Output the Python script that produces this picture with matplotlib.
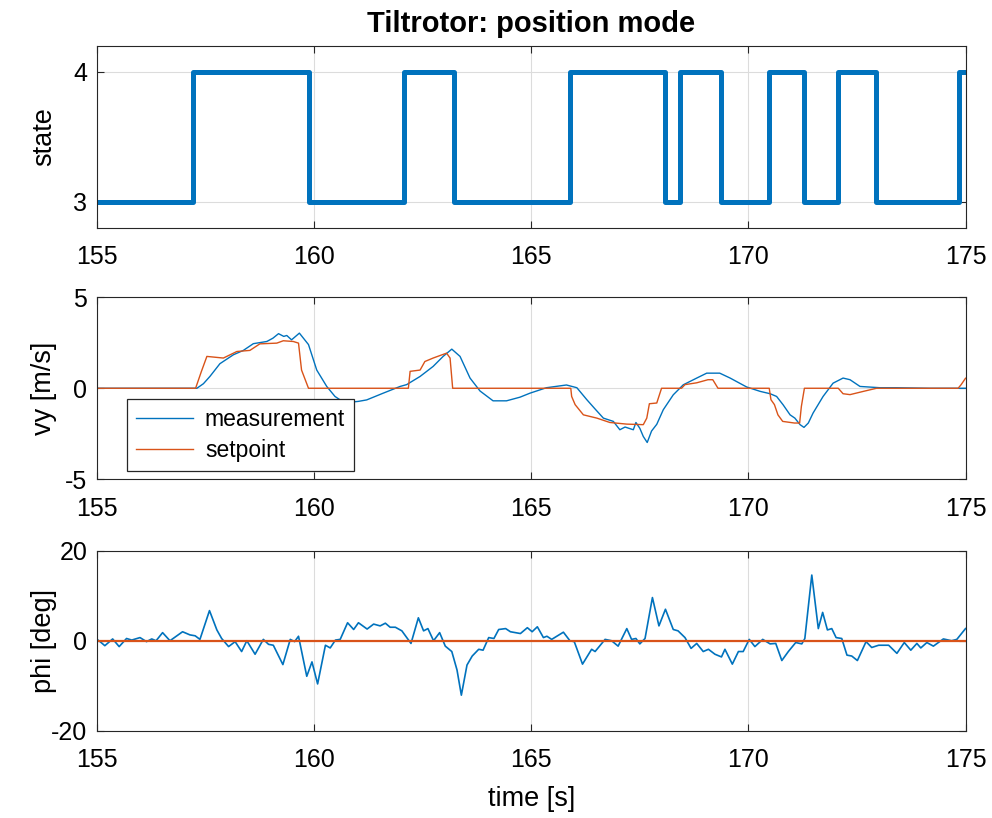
import matplotlib
matplotlib.use('Agg')
import matplotlib.pyplot as plt

plt.rcParams['font.family'] = ['Liberation Sans', 'DejaVu Sans']
plt.rcParams['axes.unicode_minus'] = False

blue = '#0072BD'
orange = '#D95319'

# state switching (time, state after the switch)
state_t = [155.0, 157.22, 159.88, 162.08, 163.22, 165.90, 168.07, 168.42, 169.37,
           170.48, 171.29, 172.07, 172.95, 174.85, 175.0]
state_v = [3, 4, 3, 4, 3, 4, 3, 4, 3, 4, 3, 4, 3, 4, 4]

# vy measurement
vy_meas_t = [155.0, 157.3, 157.45, 157.6, 157.83, 158.14, 158.37, 158.6, 158.91, 159.05,
             159.18, 159.3, 159.37, 159.48, 159.66, 159.87, 160.06, 160.29, 160.48, 160.7,
             161.02, 161.21, 161.59, 161.98, 162.13, 162.44, 162.74, 162.97, 163.17, 163.36,
             163.59, 163.82, 164.12, 164.43, 164.74, 164.97, 165.35, 165.81, 166.05, 166.28,
             166.47, 166.66, 166.89, 167.04, 167.16, 167.35, 167.41, 167.5, 167.58, 167.67,
             167.77, 167.89, 168.04, 168.27, 168.5, 168.81, 169.04, 169.34, 169.58, 169.96,
             170.27, 170.5, 170.65, 170.8, 170.96, 171.07, 171.19, 171.28, 171.38, 171.49,
             171.72, 171.95, 172.18, 172.34, 172.57, 173.03, 173.41, 174.18, 175.0]
vy_meas = [0.0, 0.0, 0.25, 0.65, 1.35, 1.84, 2.08, 2.45, 2.57, 2.75,
           3.0, 2.85, 2.9, 2.66, 3.03, 2.4, 1.0, 0.1, -0.45, -0.8,
           -0.72, -0.64, -0.27, 0.1, 0.2, 0.65, 1.2, 1.75, 2.15, 1.75,
           0.56, -0.15, -0.69, -0.69, -0.49, -0.27, 0.03, 0.18, 0.03, -0.63,
           -1.14, -1.64, -1.82, -2.28, -2.13, -2.28, -1.88, -2.2, -2.65, -2.98,
           -2.35, -1.98, -1.18, -0.36, 0.19, 0.56, 0.83, 0.83, 0.56, 0.07,
           -0.17, -0.3, -0.45, -0.91, -1.46, -1.64, -2.0, -2.15, -1.91, -1.36,
           -0.45, 0.28, 0.56, 0.47, 0.1, 0.03, 0.03, 0.0, 0.0]

# vy setpoint
vy_sp_t = [155.0, 157.27, 157.4, 157.53, 157.91, 158.22, 158.52, 158.75, 159.14, 159.29,
           159.52, 159.64, 159.71, 159.87, 162.17, 162.21, 162.44, 162.55, 162.74, 163.05,
           163.13, 163.19, 165.91, 165.93, 166.01, 166.2, 166.51, 166.81, 167.2, 167.58,
           167.66, 167.72, 167.89, 168.0, 168.46, 168.54, 168.81, 169.07, 169.18, 169.3,
           170.48, 170.52, 170.6, 170.68, 170.79, 171.06, 171.18, 171.22, 171.29, 172.07,
           172.18, 172.34, 172.65, 172.88, 172.95, 174.83, 174.9, 175.0]
vy_sp = [0.0, 0.0, 0.9, 1.75, 1.66, 2.02, 2.08, 2.44, 2.48, 2.61,
         2.57, 2.48, 1.0, 0.0, 0.0, 0.93, 1.0, 1.47, 1.66, 1.93,
         1.66, 0.0, 0.0, -0.45, -0.9, -1.46, -1.64, -1.88, -1.97, -2.0,
         -1.64, -0.85, -0.81, 0.0, 0.0, 0.2, 0.3, 0.47, 0.47, 0.0,
         0.0, -0.63, -0.9, -1.46, -1.82, -1.91, -1.91, -1.0, 0.0, 0.0,
         -0.3, -0.35, -0.17, -0.04, 0.0, 0.0, 0.2, 0.55]

# phi measurement
phi_t = [155.0, 155.07, 155.18, 155.36, 155.51, 155.68, 155.8, 155.99, 156.14, 156.26,
         156.36, 156.51, 156.68, 156.97, 157.14, 157.26, 157.37, 157.59, 157.76, 157.87,
         158.03, 158.18, 158.33, 158.45, 158.64, 158.83, 158.95, 159.06, 159.28, 159.45,
         159.55, 159.64, 159.83, 159.95, 160.08, 160.26, 160.37, 160.49, 160.6, 160.77,
         160.91, 161.02, 161.22, 161.37, 161.52, 161.64, 161.75, 161.87, 162.02, 162.23,
         162.4, 162.52, 162.62, 162.75, 162.89, 163.02, 163.17, 163.29, 163.39, 163.52,
         163.64, 163.79, 163.89, 164.02, 164.14, 164.25, 164.41, 164.52, 164.75, 164.91,
         165.02, 165.14, 165.28, 165.36, 165.47, 165.59, 165.74, 165.89, 165.99, 166.18,
         166.39, 166.47, 166.7, 166.85, 167.0, 167.2, 167.31, 167.41, 167.5, 167.62,
         167.79, 167.94, 168.09, 168.27, 168.38, 168.54, 168.68, 168.81, 168.96, 169.08,
         169.23, 169.38, 169.46, 169.63, 169.77, 169.88, 170.02, 170.15, 170.33, 170.5,
         170.63, 170.77, 170.92, 171.09, 171.23, 171.3, 171.46, 171.61, 171.71, 171.82,
         171.92, 172.02, 172.15, 172.27, 172.38, 172.51, 172.71, 172.84, 173.0, 173.23,
         173.42, 173.59, 173.74, 173.88, 173.97, 174.11, 174.26, 174.49, 174.68, 174.8,
         175.0]
phi = [0.3, -0.2, -1.1, 0.4, -1.3, 0.5, 0.15, 0.7, -0.2, 0.4,
       0.0, 1.8, 0.0, 2.0, 1.3, 1.1, 0.3, 6.7, 2.4, 0.5,
       -1.3, -0.2, -2.4, 0.0, -3.0, 0.3, -0.8, -1.0, -5.3, 0.3,
       -0.2, 1.0, -7.9, -4.7, -9.6, -1.0, -1.6, 0.15, 0.3, 4.0,
       2.5, 4.0, 2.6, 3.7, 3.3, 3.9, 3.0, 3.0, 2.2, -0.6,
       5.1, 2.2, 2.7, 0.0, 1.8, -1.2, -2.4, -6.5, -12.1, -5.4,
       -3.4, -1.9, -2.1, 0.7, 0.5, 2.5, 2.7, 2.0, 1.6, 2.9,
       2.0, 3.1, 0.7, 1.0, 0.3, 1.0, 1.9, 0.0, -0.2, -5.2,
       -1.9, -2.4, 0.3, 0.0, -1.2, 2.7, 0.3, 0.5, -0.7, 0.5,
       9.6, 3.3, 7.0, 2.5, 2.2, 0.7, -1.7, -0.6, -2.4, -1.9,
       -3.0, -3.6, -1.9, -5.2, -2.4, -2.4, 0.3, -1.3, 0.3, -0.7,
       -0.6, -4.4, -2.4, -0.4, -0.7, 0.5, 14.6, 2.7, 6.3, 2.4,
       2.7, 0.7, 0.5, -3.2, -3.4, -4.4, -0.2, -1.5, -1.0, -1.0,
       -2.8, -0.4, -2.1, -0.6, -1.6, -0.4, -1.2, 0.4, 0.0, 0.3,
       2.7]

# phi setpoint
phi_sp_t = [155.0, 175.0]
phi_sp = [0.0, 0.0]

xticks = [155, 160, 165, 170, 175]
fs = 18

fig = plt.figure(figsize=(9.92, 8.18), dpi=100)
ax1 = fig.add_axes([0.0978, 0.7216, 0.8755, 0.2225])
ax2 = fig.add_axes([0.0978, 0.4141, 0.8755, 0.2225])
ax3 = fig.add_axes([0.0978, 0.1067, 0.8755, 0.2200])

ax1.plot(state_t, state_v, drawstyle='steps-post', color=blue, linewidth=3.6)
ax1.set_ylim(2.8, 4.2)
ax1.set_yticks([3, 4])
ax1.set_ylabel('state', fontsize=19.5)
ax1.set_title('Tiltrotor: position mode', fontsize=21, fontweight='bold', pad=10)

ax2.plot(vy_meas_t, vy_meas, color=blue, linewidth=1.0, label='measurement')
ax2.plot(vy_sp_t, vy_sp, color=orange, linewidth=1.0, label='setpoint')
ax2.set_ylim(-5, 5)
ax2.set_yticks([-5, 0, 5])
ax2.set_ylabel('vy [m/s]', fontsize=19.5)
leg = ax2.legend(loc='lower left', bbox_to_anchor=(0.0345, 0.046), borderaxespad=0,
                 fontsize=16.5, fancybox=False, framealpha=1, handlelength=2.5,
                 borderpad=0.4, labelspacing=0.35, handletextpad=0.5)
leg.get_frame().set_edgecolor('#262626')
leg.get_frame().set_linewidth(0.9)

ax3.plot(phi_t, phi, color=blue, linewidth=1.2)
ax3.plot(phi_sp_t, phi_sp, color=orange, linewidth=1.6)
ax3.set_ylim(-20, 20)
ax3.set_yticks([-20, 0, 20])
ax3.set_ylabel('phi [deg]', fontsize=19.5)
ax3.set_xlabel('time [s]', fontsize=19.5, labelpad=10)

for ax in (ax1, ax2, ax3):
    ax.set_xlim(155, 175)
    ax.set_xticks(xticks)
    ax.grid(True, color='#dcdcdc', linewidth=0.8)
    ax.set_axisbelow(True)
    ax.tick_params(direction='in', top=True, right=True, labelsize=fs,
                   length=5, width=0.8, color='#262626', pad=7)
    ax.tick_params(axis='x', pad=12.5)
    for sp in ax.spines.values():
        sp.set_color('#262626')
        sp.set_linewidth(0.8)
    ax.yaxis.set_label_coords(-0.046, 0.5)

fig.savefig('out.png', dpi=100)
